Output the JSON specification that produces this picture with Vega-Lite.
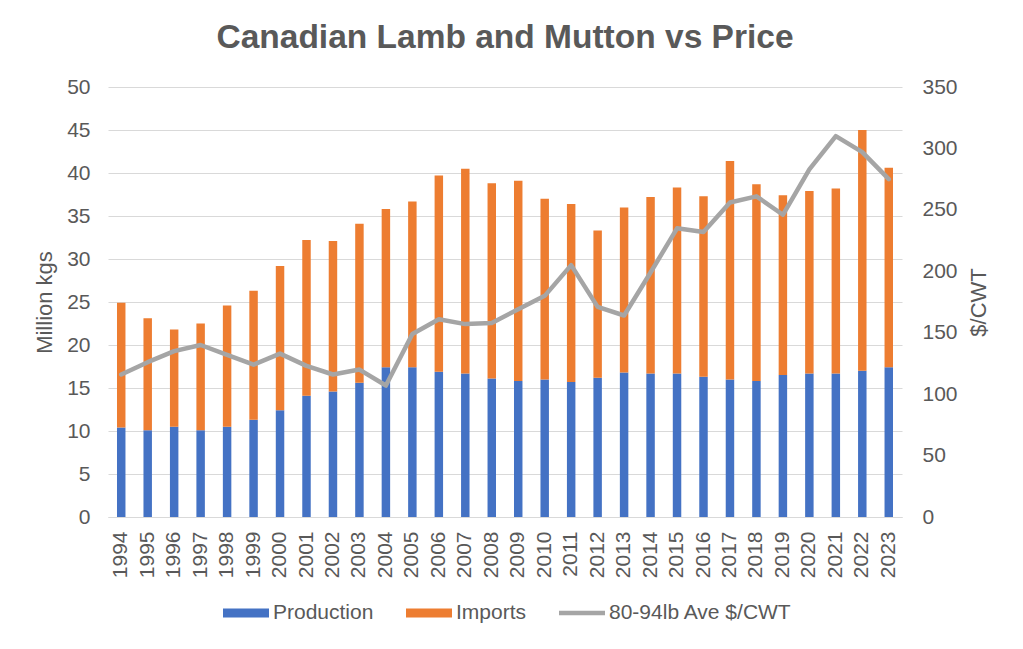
{
  "$schema": "https://vega.github.io/schema/vega-lite/v6.json",
  "width": 794,
  "height": 430,
  "autosize": "none",
  "padding": {"left": 108, "top": 87, "right": 121, "bottom": 132},
  "background": "white",
  "title": {"text": "Canadian Lamb and Mutton vs Price", "fontSize": 33.5, "font": "Liberation Sans", "fontWeight": "bold", "color": "#595959", "offset": 21, "anchor": "middle"},
  "config": {"view": {"stroke": null}, "font": "Liberation Sans"},
  "datasets": {
    "volume": [
      {"year": 1994, "series": "Production", "value": 10.4}, {"year": 1994, "series": "Imports", "value": 14.5},
      {"year": 1995, "series": "Production", "value": 10.1}, {"year": 1995, "series": "Imports", "value": 13.0},
      {"year": 1996, "series": "Production", "value": 10.5}, {"year": 1996, "series": "Imports", "value": 11.3},
      {"year": 1997, "series": "Production", "value": 10.1}, {"year": 1997, "series": "Imports", "value": 12.4},
      {"year": 1998, "series": "Production", "value": 10.5}, {"year": 1998, "series": "Imports", "value": 14.1},
      {"year": 1999, "series": "Production", "value": 11.3}, {"year": 1999, "series": "Imports", "value": 15.0},
      {"year": 2000, "series": "Production", "value": 12.4}, {"year": 2000, "series": "Imports", "value": 16.8},
      {"year": 2001, "series": "Production", "value": 14.1}, {"year": 2001, "series": "Imports", "value": 18.1},
      {"year": 2002, "series": "Production", "value": 14.6}, {"year": 2002, "series": "Imports", "value": 17.5},
      {"year": 2003, "series": "Production", "value": 15.6}, {"year": 2003, "series": "Imports", "value": 18.5},
      {"year": 2004, "series": "Production", "value": 17.4}, {"year": 2004, "series": "Imports", "value": 18.4},
      {"year": 2005, "series": "Production", "value": 17.4}, {"year": 2005, "series": "Imports", "value": 19.3},
      {"year": 2006, "series": "Production", "value": 16.9}, {"year": 2006, "series": "Imports", "value": 22.8},
      {"year": 2007, "series": "Production", "value": 16.7}, {"year": 2007, "series": "Imports", "value": 23.8},
      {"year": 2008, "series": "Production", "value": 16.1}, {"year": 2008, "series": "Imports", "value": 22.7},
      {"year": 2009, "series": "Production", "value": 15.8}, {"year": 2009, "series": "Imports", "value": 23.3},
      {"year": 2010, "series": "Production", "value": 16.0}, {"year": 2010, "series": "Imports", "value": 21.0},
      {"year": 2011, "series": "Production", "value": 15.7}, {"year": 2011, "series": "Imports", "value": 20.7},
      {"year": 2012, "series": "Production", "value": 16.2}, {"year": 2012, "series": "Imports", "value": 17.1},
      {"year": 2013, "series": "Production", "value": 16.8}, {"year": 2013, "series": "Imports", "value": 19.2},
      {"year": 2014, "series": "Production", "value": 16.7}, {"year": 2014, "series": "Imports", "value": 20.5},
      {"year": 2015, "series": "Production", "value": 16.7}, {"year": 2015, "series": "Imports", "value": 21.6},
      {"year": 2016, "series": "Production", "value": 16.3}, {"year": 2016, "series": "Imports", "value": 21.0},
      {"year": 2017, "series": "Production", "value": 16.0}, {"year": 2017, "series": "Imports", "value": 25.4},
      {"year": 2018, "series": "Production", "value": 15.8}, {"year": 2018, "series": "Imports", "value": 22.9},
      {"year": 2019, "series": "Production", "value": 16.5}, {"year": 2019, "series": "Imports", "value": 20.9},
      {"year": 2020, "series": "Production", "value": 16.7}, {"year": 2020, "series": "Imports", "value": 21.2},
      {"year": 2021, "series": "Production", "value": 16.7}, {"year": 2021, "series": "Imports", "value": 21.5},
      {"year": 2022, "series": "Production", "value": 17.0}, {"year": 2022, "series": "Imports", "value": 28.0},
      {"year": 2023, "series": "Production", "value": 17.4}, {"year": 2023, "series": "Imports", "value": 23.2}
    ],
    "price": [
      {"year": 1994, "series": "80-94lb Ave $/CWT", "price": 116},
      {"year": 1995, "series": "80-94lb Ave $/CWT", "price": 126},
      {"year": 1996, "series": "80-94lb Ave $/CWT", "price": 135},
      {"year": 1997, "series": "80-94lb Ave $/CWT", "price": 140},
      {"year": 1998, "series": "80-94lb Ave $/CWT", "price": 132},
      {"year": 1999, "series": "80-94lb Ave $/CWT", "price": 124},
      {"year": 2000, "series": "80-94lb Ave $/CWT", "price": 133},
      {"year": 2001, "series": "80-94lb Ave $/CWT", "price": 123},
      {"year": 2002, "series": "80-94lb Ave $/CWT", "price": 116},
      {"year": 2003, "series": "80-94lb Ave $/CWT", "price": 120},
      {"year": 2004, "series": "80-94lb Ave $/CWT", "price": 107},
      {"year": 2005, "series": "80-94lb Ave $/CWT", "price": 149},
      {"year": 2006, "series": "80-94lb Ave $/CWT", "price": 161},
      {"year": 2007, "series": "80-94lb Ave $/CWT", "price": 157},
      {"year": 2008, "series": "80-94lb Ave $/CWT", "price": 158},
      {"year": 2009, "series": "80-94lb Ave $/CWT", "price": 169},
      {"year": 2010, "series": "80-94lb Ave $/CWT", "price": 180},
      {"year": 2011, "series": "80-94lb Ave $/CWT", "price": 205},
      {"year": 2012, "series": "80-94lb Ave $/CWT", "price": 171},
      {"year": 2013, "series": "80-94lb Ave $/CWT", "price": 164},
      {"year": 2014, "series": "80-94lb Ave $/CWT", "price": 199},
      {"year": 2015, "series": "80-94lb Ave $/CWT", "price": 235},
      {"year": 2016, "series": "80-94lb Ave $/CWT", "price": 232},
      {"year": 2017, "series": "80-94lb Ave $/CWT", "price": 256},
      {"year": 2018, "series": "80-94lb Ave $/CWT", "price": 261},
      {"year": 2019, "series": "80-94lb Ave $/CWT", "price": 246},
      {"year": 2020, "series": "80-94lb Ave $/CWT", "price": 283},
      {"year": 2021, "series": "80-94lb Ave $/CWT", "price": 310},
      {"year": 2022, "series": "80-94lb Ave $/CWT", "price": 297},
      {"year": 2023, "series": "80-94lb Ave $/CWT", "price": 275}
    ]
  },
  "layer": [
    {
      "data": {"name": "volume"},
      "mark": {"type": "bar", "width": {"band": 1}},
      "encoding": {
        "x": {
          "field": "year", "type": "ordinal",
          "scale": {"paddingInner": 0.68, "paddingOuter": 0.34},
          "axis": {"title": null, "labelAngle": -90, "labelFontSize": 21, "labelColor": "#595959", "labelPadding": 14, "ticks": false, "domainColor": "#D9D9D9", "domainWidth": 1, "grid": false}
        },
        "y": {
          "field": "value", "type": "quantitative", "stack": "zero",
          "scale": {"domain": [0, 50], "nice": false},
          "axis": {"title": "Million kgs", "titleFontSize": 22, "titleFontWeight": "normal", "titleColor": "#595959", "titlePadding": 10, "values": [0, 5, 10, 15, 20, 25, 30, 35, 40, 45, 50], "labelFontSize": 21, "labelColor": "#595959", "labelPadding": 18, "ticks": false, "domain": false, "grid": true, "gridColor": "#D9D9D9", "gridWidth": 1}
        },
        "color": {
          "field": "series", "type": "nominal",
          "scale": {"domain": ["Production", "Imports", "80-94lb Ave $/CWT"], "range": ["#4472C4", "#ED7D31", "#A5A5A5"]},
          "legend": {
            "title": null, "orient": "none", "direction": "horizontal", "legendX": 115, "legendY": 503,
            "labelFontSize": 21, "labelColor": "#595959", "labelOffset": 4, "columnPadding": 32, "labelLimit": 0,
            "symbolSize": 2116, "symbolStrokeWidth": 0,
            "encode": {"symbols": {"update": {
              "shape": {"signal": "datum.value == '80-94lb Ave $/CWT' ? 'M-1,-0.1H1V0.1H-1Z' : 'M-1,-0.2H1V0.2H-1Z'"},
              "fill": {"scale": "color", "field": "value"},
              "strokeWidth": {"value": 0}
            }}}
          }
        },
        "order": {"field": "series", "sort": "descending"}
      }
    },
    {
      "data": {"name": "price"},
      "mark": {"type": "line", "strokeWidth": 4.5, "strokeCap": "round", "strokeJoin": "round"},
      "encoding": {
        "x": {"field": "year", "type": "ordinal"},
        "y": {
          "field": "price", "type": "quantitative",
          "scale": {"domain": [0, 350], "nice": false},
          "axis": {"orient": "right", "title": "$/CWT", "titleAngle": -90, "titleFontSize": 22, "titleFontWeight": "normal", "titleColor": "#595959", "titlePadding": 33, "values": [0, 50, 100, 150, 200, 250, 300, 350], "labelFontSize": 21, "labelColor": "#595959", "labelPadding": 20, "ticks": false, "domain": false, "grid": false}
        },
        "color": {"field": "series", "type": "nominal"}
      }
    }
  ],
  "resolve": {"scale": {"y": "independent"}}
}
